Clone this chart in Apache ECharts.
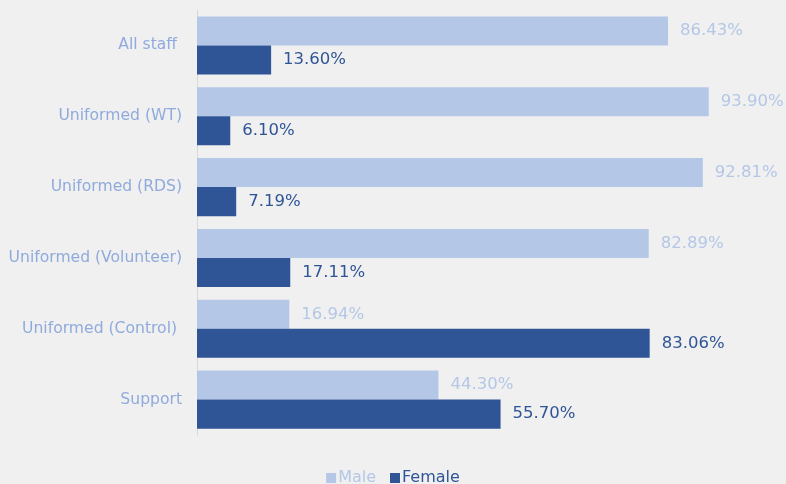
<!DOCTYPE html>
<html><head><meta charset="utf-8">
<script src="https://cdn.jsdelivr.net/npm/echarts@6/dist/echarts.min.js"></script>
<style>html,body{margin:0;padding:0;background:#f0f0f0}#c{width:786px;height:484px}</style>
</head><body><div id="c"></div>
<script>
var categories = ['All staff ', 'Uniformed (WT)', 'Uniformed (RDS)', 'Uniformed (Volunteer)', 'Uniformed (Control) ', 'Support'];
var male = [86.43, 93.90, 92.81, 82.89, 16.94, 44.30];
var female = [13.60, 6.10, 7.19, 17.11, 83.06, 55.70];
var FONT = '"DejaVu Sans", sans-serif';
var chart = echarts.init(document.getElementById('c'));
chart.setOption({
  backgroundColor: '#f0f0f0',
  animation: false,
  grid: {left: 197, right: 44, top: 10, bottom: 49, containLabel: false},
  legend: {
    data: [
      {name: 'Male', textStyle: {color: '#b4c7e7'}},
      {name: 'Female', textStyle: {color: '#2f5597'}}
    ], bottom: -7, left: 'center',
    icon: 'rect', itemWidth: 10, itemHeight: 10, itemGap: 14,
    textStyle: {fontFamily: FONT, fontSize: 16, padding: [0,0,0,-3]},
    selectedMode: false
  },
  xAxis: {type: 'value', min: 0, max: 100, show: false},
  yAxis: {
    type: 'category', data: categories, inverse: true,
    axisLine: {show: true, lineStyle: {color: '#d9d9d9', width: 1}},
    axisTick: {show: false},
    axisLabel: {color: '#8faadc', fontFamily: FONT, fontSize: 15.6, margin: 15}
  },
  series: [
    {name: 'Male', type: 'bar', data: male, barGap: '0%', barCategoryGap: '18%',
     itemStyle: {color: '#b4c7e7'},
     label: {show: true, position: 'right', distance: 12, color: '#b4c7e7', fontFamily: FONT, fontSize: 16.5,
       formatter: function(p){return p.value.toFixed(2) + '%';}}},
    {name: 'Female', type: 'bar', data: female,
     itemStyle: {color: '#2f5597'},
     label: {show: true, position: 'right', distance: 12, color: '#2f5597', fontFamily: FONT, fontSize: 16.5,
       formatter: function(p){return p.value.toFixed(2) + '%';}}}
  ]
});
</script></body></html>
